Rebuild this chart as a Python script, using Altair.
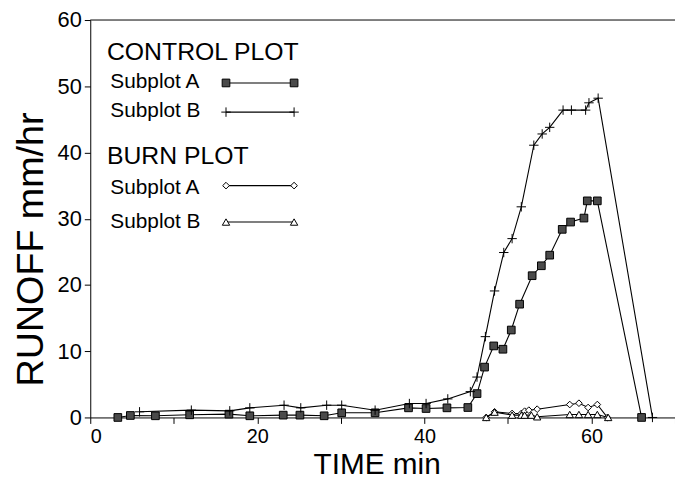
import altair as alt
import pandas as pd

# ---------------- data ----------------
ctrl_a_x = [3.3, 4.8, 7.8, 11.9, 16.6, 19.1, 23.1, 25.1, 28.0, 30.1, 34.1, 38.1, 40.2, 42.7,
            45.2, 46.3, 47.2, 48.3, 49.4, 50.4, 51.4, 52.9, 54.0, 55.0, 56.5, 57.5, 59.1,
            59.5, 60.7, 66.0]
ctrl_a_y = [0.0, 0.3, 0.25, 0.4, 0.5, 0.25, 0.35, 0.35, 0.25, 0.7, 0.7, 1.45, 1.35, 1.45,
            1.5, 3.6, 7.6, 10.8, 10.3, 13.2, 17.1, 21.4, 22.9, 24.5, 28.4, 29.5, 30.1,
            32.7, 32.7, 0.0]

ctrl_b_x = [5.9, 12.1, 16.7, 19.1, 23.2, 25.2, 28.3, 30.1, 34.1, 38.2, 40.2, 42.8, 45.5,
            46.3, 47.3, 48.4, 49.5, 50.5, 51.6, 53.1, 54.1, 55.0, 56.6, 57.6, 59.3, 59.7,
            60.8, 67.3]
ctrl_b_y = [0.85, 1.1, 1.0, 1.45, 1.85, 1.45, 1.85, 1.85, 1.1, 2.1, 2.1, 2.8, 3.9,
            6.1, 12.2, 19.1, 24.9, 27.0, 31.8, 41.1, 42.8, 43.8, 46.4, 46.4, 46.4, 47.5,
            48.2, 0.0]

burn_a_x = [47.4, 48.4, 50.5, 51.6, 52.0, 52.5, 53.5, 57.4, 58.5, 59.6, 60.7, 61.9]
burn_a_y = [0.0, 0.85, 0.6, 0.6, 0.95, 1.1, 1.25, 1.95, 2.15, 1.5, 1.95, 0.0]

burn_b_x = [47.4, 48.4, 50.5, 51.6, 52.0, 52.8, 53.5, 57.4, 58.5, 59.6, 60.7, 62.0]
burn_b_y = [0.0, 0.8, 0.35, 0.35, 0.35, 0.35, 0.1, 0.45, 0.45, 0.45, 0.45, 0.0]

x_ticks = [0, 10, 20, 30, 40, 50, 60, 70]
y_ticks = [0, 10, 20, 30, 40, 50, 60]

series_names = ["ctrlA", "ctrlB", "burnA", "burnB"]
legend_group_titles = ["CONTROL PLOT", "BURN PLOT"]
legend_item_labels = ["Subplot A", "Subplot B", "Subplot A", "Subplot B"]

# legend placement (data units)
legend_title_x = [2.0, 2.0]
legend_title_y = [54.0, 38.3]
legend_label_x = [2.4, 2.4, 2.4, 2.4]
legend_label_y = [49.7, 45.4, 33.8, 28.6]
legend_line_x0, legend_line_x1 = 16.25, 24.4
legend_line_y = [50.5, 46.1, 35.0, 29.5]

# ---------------- tables ----------------
def mk(name, xs, ys):
    return pd.DataFrame({"series": name, "x": xs, "y": ys, "i": range(len(xs))})

data = pd.concat([
    mk("ctrlA", ctrl_a_x, ctrl_a_y),
    mk("ctrlB", ctrl_b_x, ctrl_b_y),
    mk("burnA", burn_a_x, burn_a_y),
    mk("burnB", burn_b_x, burn_b_y),
], ignore_index=True)

leg_rows = []
for s, ly in zip(series_names, legend_line_y):
    leg_rows.append({"series": s, "x": legend_line_x0, "y": ly, "i": 0})
    leg_rows.append({"series": s, "x": legend_line_x1, "y": ly, "i": 1})
leg_lines = pd.DataFrame(leg_rows)

leg_titles = pd.DataFrame({"t": legend_group_titles, "x": legend_title_x, "y": legend_title_y})
leg_labels = pd.DataFrame({"t": legend_item_labels, "x": legend_label_x, "y": legend_label_y})

FONT = "Liberation Sans"

xscale = alt.Scale(domain=[0, 70], nice=False, zero=False)
yscale = alt.Scale(domain=[0, 60], nice=False)

X = alt.X("x:Q", scale=xscale, axis=alt.Axis(
    values=x_ticks,
    labelExpr="datum.value % 20 == 0 ? datum.label : ''",
    title="TIME min", titleFontSize=30,
    titleFontWeight="normal", titleBaseline="alphabetic", titleX=289, titleY=57,
    titleAlign="center",
    labelFontSize=20, labelPadding=3, tickSize=6, grid=False))
Y = alt.Y("y:Q", scale=yscale, axis=alt.Axis(
    values=y_ticks, title="RUNOFF mm/hr", titleFontSize=38, titleFontWeight="normal",
    titleBaseline="alphabetic", titleX=-48, titleY=231, titleAlign="center",
    labelFontSize=22, labelPadding=3, tickSize=6, grid=False))

styles = {
    "ctrlA": dict(shape="square", filled=True, fill="#4a4a4a", stroke="black", strokeWidth=1, size=60),
    "ctrlB": dict(shape="M-1,0L1,0M0,-1L0,1", filled=False, stroke="black", strokeWidth=1, size=90),
    "burnA": dict(shape="diamond", filled=True, fill="white", stroke="black", strokeWidth=1, size=45),
    "burnB": dict(shape="triangle-up", filled=True, fill="white", stroke="black", strokeWidth=1, size=55),
}

layers = []
frame = alt.Chart(pd.DataFrame({"y": [60]})).mark_rule(color="black", strokeWidth=1).encode(
    y=alt.Y("y:Q", scale=yscale))
layers.append(frame)

for src in (data, leg_lines):
    for s in series_names:
        base = alt.Chart(src).transform_filter(alt.datum.series == s)
        layers.append(base.mark_line(color="black", strokeWidth=1.1).encode(
            x=X, y=Y, order="i:Q"))
        layers.append(base.mark_point(opacity=1, **styles[s]).encode(x=X, y=Y))

layers.append(alt.Chart(leg_titles).mark_text(
    align="left", baseline="alphabetic", font=FONT, fontSize=25, color="black").encode(
    x=X, y=Y, text="t:N"))
layers.append(alt.Chart(leg_labels).mark_text(
    align="left", baseline="alphabetic", font=FONT, fontSize=21, color="black").encode(
    x=X, y=Y, text="t:N"))

chart = alt.layer(*layers).properties(
    width=590, height=401,
    padding={"left": 83, "top": 10, "right": 0, "bottom": 64},
    autosize=alt.AutoSizeParams(type="none"),
    background="white",
).configure_view(stroke=None).configure_axis(
    domainColor="black", tickColor="black", labelColor="black", titleColor="black",
    labelFont=FONT, titleFont=FONT, domainWidth=1, tickWidth=1,
)

chart.save("out.html", embed_options={"renderer": "svg", "actions": False})
